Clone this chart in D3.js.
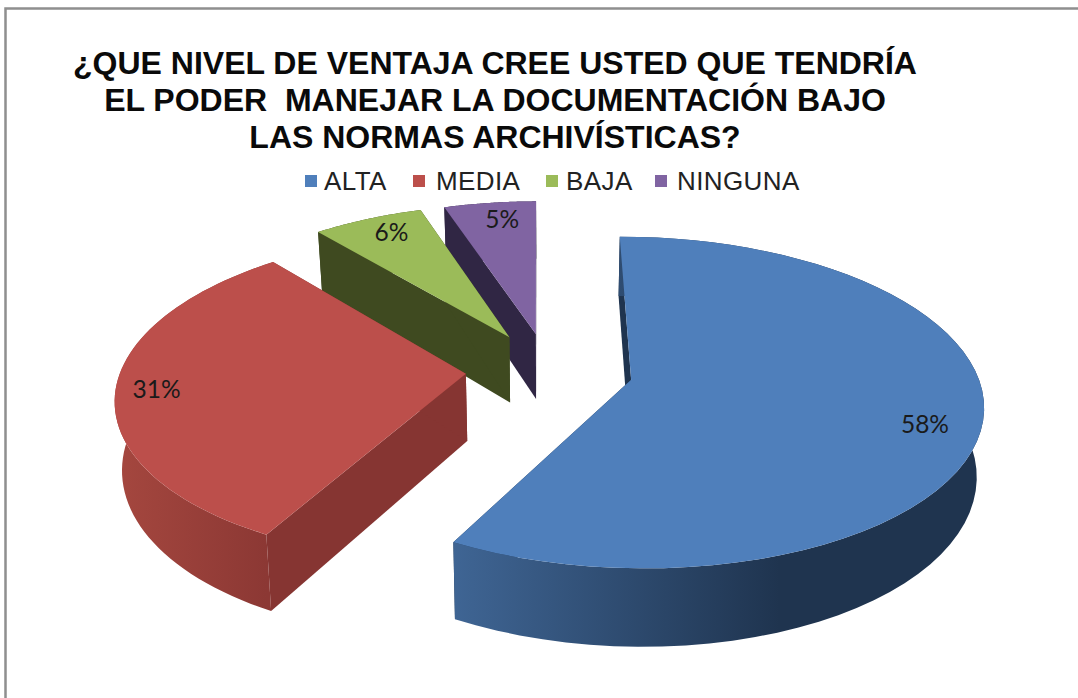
<!DOCTYPE html>
<html>
<head>
<meta charset="utf-8">
<script src="https://cdn.jsdelivr.net/npm/d3@7"></script>
<style>
  html, body { margin: 0; padding: 0; background: #fff; }
  svg { display: block; }
  text { white-space: pre; }
</style>
</head>
<body>
<script>
// Survey answers, in percent
const categories = ["ALTA", "MEDIA", "BAJA", "NINGUNA"];
const shares = [58, 31, 6, 5];
const titleLines = [
  "¿QUE NIVEL DE VENTAJA CREE USTED QUE TENDRÍA",
  "EL PODER  MANEJAR LA DOCUMENTACIÓN BAJO",
  "LAS NORMAS ARCHIVÍSTICAS?"
];
const topColors = ["#4f7fbb", "#bc4f4b", "#9bbb59", "#8064a2"];
const faceColors = ["#1f344f", "#863532", "#3f4a20", "#302644"];
const wallStops = [
  ["#3f6594", "#1f344f"],
  ["#a5473f", "#8c3834"],
  ["#3f4a20", "#3f4a20"],
  ["#302644", "#302644"]
];
const legendSwatchX = [305, 413, 546, 655];
const legendTextX = [324, 436, 566, 677];
// Slice pull-out from the pie centre, in radii
const explosions = [0.245, 0.24, 0.24, 0.235];
// Label nudges off the rim position, in pixels
const labelNudge = [[-11, 10], [-5, 2], [7, 0], [7, 2]];

const W = 1078, H = 698;
const svg = d3.select("body").append("svg").attr("width", W).attr("height", H);
const defs = svg.append("defs");

// Frame of the chart area: only the top and left rules fall inside the page
svg.append("path").attr("d", `M5.5,${H} V8.5 H${W}`)
  .attr("fill", "none").attr("stroke", "#8f8f8f").attr("stroke-width", 2.5);

// Title
svg.append("g").selectAll("text").data(titleLines).join("text")
  .attr("x", 495).attr("y", (d, i) => 74 + i * 37)
  .attr("text-anchor", "middle")
  .attr("font-family", "'Liberation Sans', Arial, sans-serif")
  .attr("font-weight", "bold").attr("font-size", 32).attr("fill", "#0a0a0a")
  .text(d => d);

// Legend
const legend = svg.append("g").selectAll("g").data(categories).join("g");
legend.append("rect")
  .attr("x", (d, i) => legendSwatchX[i]).attr("y", 175).attr("width", 12).attr("height", 12)
  .attr("fill", (d, i) => topColors[i]);
legend.append("text")
  .attr("x", (d, i) => legendTextX[i]).attr("y", 190)
  .attr("font-family", "'Liberation Sans', Arial, sans-serif")
  .attr("font-size", 26).attr("letter-spacing", 0.4).attr("fill", "#222")
  .text(d => d);

// Perspective of the tilted pie. u runs right, v towards the viewer, both in pie radii
const center = { x: 548.5, y: 370 };
const radiusX = 345, radiusY = 160;
const perspective = 0.137, depth = 67, baseShrink = 0.983;
const rotation = -0.25 * Math.PI / 180;

function project(u, v, lower) {
  const s = 1 / (1 - perspective * v);
  const shrink = lower ? baseShrink : 1;
  return [
    center.x + radiusX * u * s * shrink,
    center.y + radiusY * v * s + (lower ? depth * s : 0)
  ];
}

const pieLayout = d3.pie().sort(null).value(d => d)
  .startAngle(rotation).endAngle(2 * Math.PI + rotation);
const slices = pieLayout(shares).map((a, i) => {
  const mid = (a.startAngle + a.endAngle) / 2;
  const ox = explosions[i] * Math.sin(mid), oy = -explosions[i] * Math.cos(mid);
  return { i, start: a.startAngle, end: a.endAngle, mid, ox, oy };
});

const line = d3.line();
const rimPoint = (sl, ang, r) => [sl.ox + r * Math.sin(ang), sl.oy - r * Math.cos(ang)];
const rim = (sl, lower) => d3.range(0, 61).map(k => {
  const ang = sl.start + (sl.end - sl.start) * k / 60;
  const p = rimPoint(sl, ang, 1);
  return project(p[0], p[1], lower);
});
const apex = (sl, lower) => project(sl.ox, sl.oy, lower);

// Back slices first so nearer ones cover them
const order = [3, 2, 1, 0];
const groups = svg.append("g").selectAll("g").data(order.map(i => slices[i])).join("g");

groups.each(function (sl) {
  const g = d3.select(this);
  const upper = rim(sl, false), lowerRim = rim(sl, true);
  const aTop = apex(sl, false), aLow = apex(sl, true);

  // Cut faces
  [[upper[0], lowerRim[0]], [upper[60], lowerRim[60]]].forEach(([t, b]) => {
    g.append("path")
      .attr("d", line([aTop, t, b, aLow]) + "Z")
      .attr("fill", faceColors[sl.i]);
  });

  // Curved outer wall, shaded along its width
  const xs = upper.map(p => p[0]);
  const gradId = "wall" + sl.i;
  const grad = defs.append("linearGradient").attr("id", gradId)
    .attr("gradientUnits", "userSpaceOnUse")
    .attr("x1", sl.i === 1 ? d3.min(xs) : project(sl.ox - 0.48, 0.9, false)[0]).attr("y1", 0)
    .attr("x2", sl.i === 1 ? upper[0][0] : project(sl.ox + 0.35, 0.9, false)[0]).attr("y2", 0);
  grad.append("stop").attr("offset", 0).attr("stop-color", wallStops[sl.i][0]);
  grad.append("stop").attr("offset", 1).attr("stop-color", wallStops[sl.i][1]);
  g.append("path")
    .attr("d", line(upper.concat(lowerRim.slice().reverse())) + "Z")
    .attr("fill", `url(#${gradId})`);

  // Top face
  g.append("path")
    .attr("d", line([aTop].concat(upper)) + "Z")
    .attr("fill", topColors[sl.i]);
});

// Percent labels sit near the rim of each top face
const labelRadius = 0.87;
svg.append("g").selectAll("text").data(slices).join("text")
  .attr("x", d => { const p = rimPoint(d, d.mid, labelRadius); return project(p[0], p[1], false)[0] + labelNudge[d.i][0]; })
  .attr("y", d => { const p = rimPoint(d, d.mid, labelRadius); return project(p[0], p[1], false)[1] + 8 + labelNudge[d.i][1]; })
  .attr("text-anchor", "middle")
  .attr("font-family", "Lato, 'Open Sans', sans-serif")
  .attr("font-size", 24.5).attr("fill", "#1a1a1a")
  .text(d => shares[d.i] + "%");
</script>
</body>
</html>
